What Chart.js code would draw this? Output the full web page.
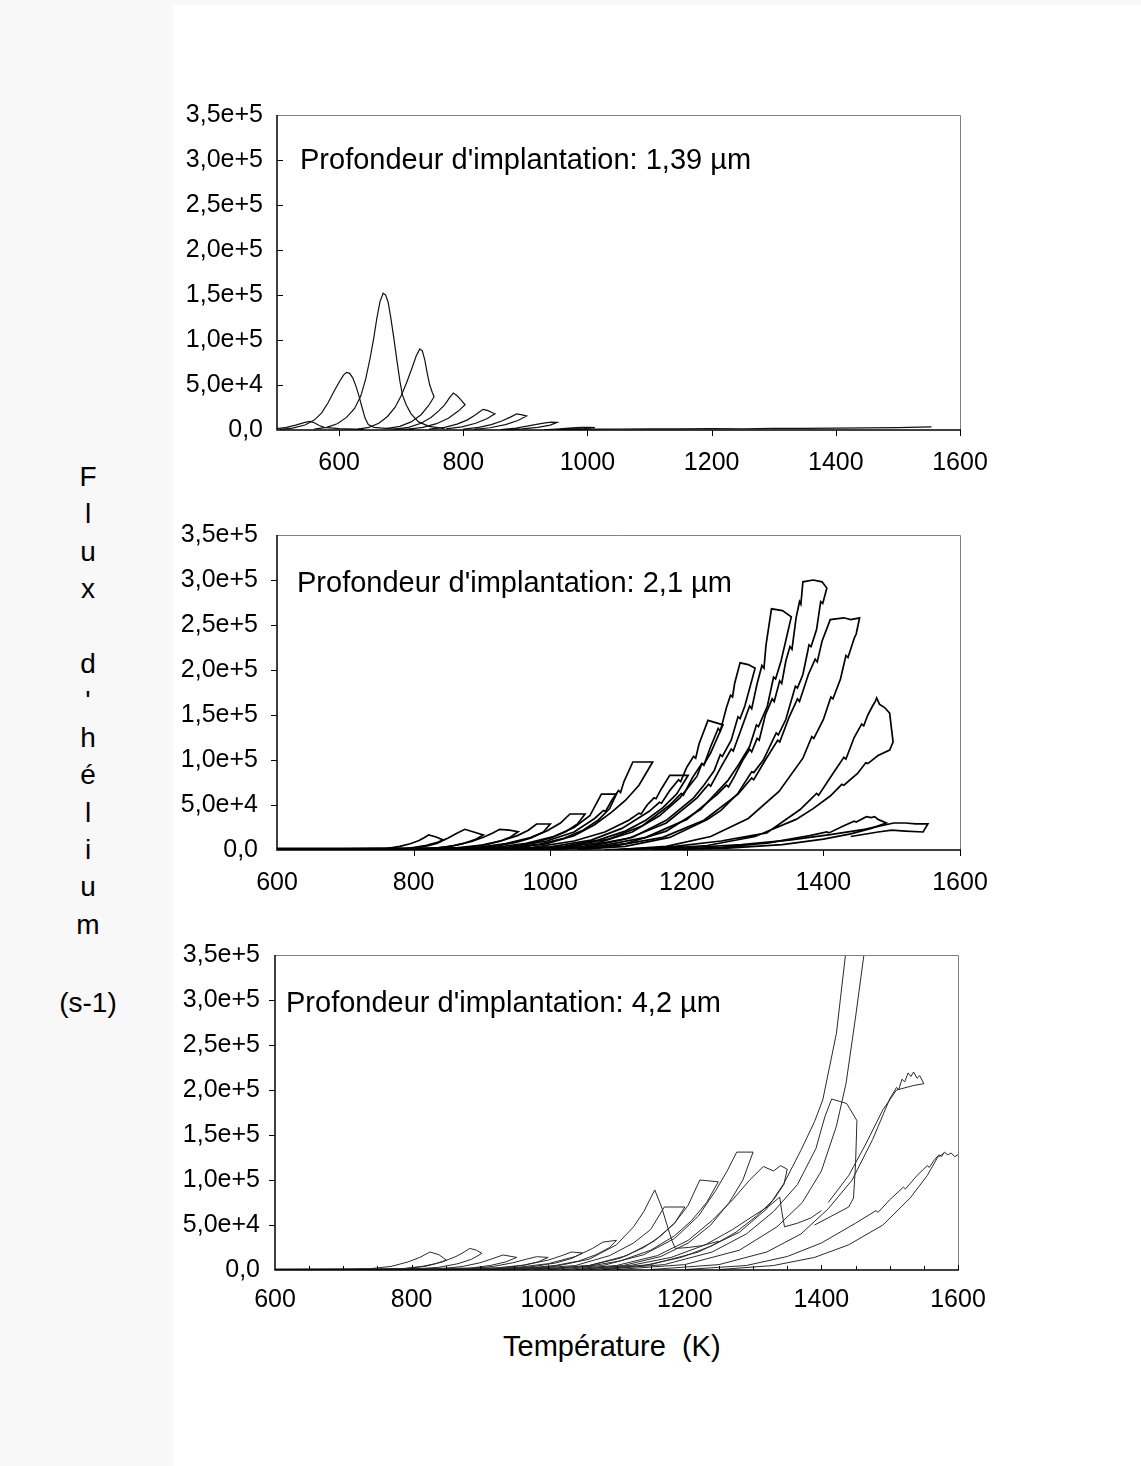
<!DOCTYPE html>
<html><head><meta charset="utf-8">
<script src="https://cdn.jsdelivr.net/npm/chart.js@4.4.0/dist/chart.umd.min.js"></script>
<style>
body{margin:0;background:#fff;}
#page{position:relative;width:1141px;height:1466px;background:#fff;overflow:hidden;font-family:"Liberation Sans",Arial,sans-serif;color:#000;}
#strip{position:absolute;left:0;top:0;width:173px;height:1466px;background:#f8f8f8;}
#topstrip{position:absolute;left:0;top:0;width:1141px;height:5px;background:#f8f8f8;}
canvas{position:absolute;}
.ann{position:absolute;font-size:29px;white-space:nowrap;line-height:29px;}
.yl{position:absolute;width:120px;left:28px;text-align:center;font-size:28px;line-height:28px;}
</style></head>
<body><div id="page">
<div id="strip"></div><div id="topstrip"></div>
<canvas id="c1" width="870" height="410" style="left:150px;top:75px"></canvas>
<canvas id="c2" width="870" height="410" style="left:150px;top:495px"></canvas>
<canvas id="c3" width="870" height="410" style="left:150px;top:915px"></canvas>
<div class="ann" style="left:300px;top:145px">Profondeur d'implantation: 1,39 µm</div>
<div class="ann" style="left:297px;top:568px">Profondeur d'implantation: 2,1 µm</div>
<div class="ann" style="left:286px;top:988px">Profondeur d'implantation: 4,2 µm</div>
<div class="ann" style="left:503px;top:1332px">Température&nbsp;&nbsp;(K)</div>
<div id="ytitle"></div>
</div>
<script>
// ---------- axis ticks ----------
const yTickValues = [0, 50, 100, 150, 200, 250, 300, 350]; // in units of 1e3 s-1
const yTickLabels = ['0,0', '5,0e+4', '1,0e+5', '1,5e+5', '2,0e+5', '2,5e+5', '3,0e+5', '3,5e+5'];
const xTickValues = [600, 800, 1000, 1200, 1400, 1600];
const yTitleLines = ['F', 'l', 'u', 'x', '', 'd', "'", 'h', 'é', 'l', 'i', 'u', 'm', '', '(s-1)'];

// ---------- panel 1 : 1,39 µm  ([T (K), flux (1e3 s-1)]) ----------
const p1a = [[500,1.5],[515,3],[530,5.5],[545,8.5],[553,9.5],[560,8],[568,5],[576,3],[600,1.5],[640,0.8]];
const p1b = [[505,0.8],[525,2],[545,5.5],[560,11],[572,19],[582,30],[591,42],[600,53],[607,61],[612,64],[617,63],[622,58],[627,49],[632,38],[637,25],[642,13],[647,6],[656,3],[680,1.5],[720,0.8]];
const p1c = [[560,1],[580,3],[597,7],[612,14],[625,24],[635,38],[643,57],[650,80],[656,103],[661,125],[666,143],[671,152],[675,150],[679,142],[683,126],[688,103],[693,78],[698,54],[702,39],[708,28],[716,18],[728,9],[745,4],[770,1.5]];
const p1d = [[630,1],[648,3],[664,7.5],[678,15],[690,25],[700,38],[709,53],[717,68],[724,82],[730,90],[734,88],[738,78],[742,63],[746,50],[750,42],[753,37],[744,27],[732,17],[716,9],[698,4],[675,1.5]];
const p1e = [[690,1],[712,3],[732,7.5],[748,14],[760,21],[770,28],[778,36],[784,41],[790,38],[797,33],[803,28],[792,21],[776,13],[757,7],[735,3],[712,1]];
const p1f = [[745,1],[770,3],[790,6.5],[806,11],[818,16],[827,20.5],[832,23],[840,21.5],[846,19.5],[851,18],[838,12.5],[820,7.5],[798,3.5],[772,1.2]];
const p1g = [[800,1],[825,3],[845,6],[862,10],[875,14],[886,17.8],[895,16.8],[902,15.5],[888,10.5],[868,6],[843,2.5],[818,0.8]];
const p1h = [[860,0.5],[885,2],[905,4.5],[920,6.5],[932,8],[942,8.8],[951,8.5],[940,5.5],[920,3],[895,1.2],[870,0.4]];
const p1i = [[930,0.3],[955,1.2],[975,2.3],[990,3],[1005,3],[1012,2.6],[995,1.5],[970,0.6]];
const p1base = [[950,0.6],[1000,0.9],[1050,1.1],[1100,1.3],[1150,1.2],[1200,1.6],[1250,1.4],[1300,1.9],[1350,1.7],[1400,2.1],[1450,2.4],[1500,2.7],[1554,3.4]];

// ---------- panel 2 : 2,1 µm ----------
const p2base = [[600,1],[650,1],[700,1.1],[750,1.3],[800,1.5],[850,1.8],[900,2]];
const p2f1 = [[740,0.3],[760,1.5],[780,4],[795,7],[808,10.5],[816,14],[822,16.7],[833,14.5],[844,11],[835,7.5],[820,4.5],[800,2],[775,0.7]];
const p2f2 = [[760,0.3],[790,1.5],[815,4.5],[835,8.5],[850,13],[862,18],[875,23],[888,20],[902,16.7],[890,11.5],[872,7],[850,3.5],[825,1.5],[795,0.4]];
const p2f3 = [[790,0.3],[830,1.8],[860,5],[885,9.5],[903,14.5],[916,19],[926,23],[940,22],[953,20.3],[942,14.5],[925,9.5],[903,5.5],[875,2.5],[840,0.8]];
const p2f4 = [[810,0.3],[860,2],[900,5.5],[930,10.5],[952,16],[968,22],[980,28.9],[1000,28.9],[990,20],[972,13.5],[950,8.5],[922,4.5],[890,2],[850,0.5]];
const p2f5 = [[830,0.3],[890,2.5],[935,7],[970,13.5],[995,21],[1015,30],[1029,40],[1051,40],[1040,29],[1022,20],[1000,13],[972,7.5],[940,3.5],[895,1]];
const p2f6 = [[850,0.3],[915,2.5],[965,7.5],[1005,15],[1035,25],[1058,38],[1075,62],[1097,62],[1087,46],[1070,33],[1048,22],[1020,13],[985,6.5],[940,2.5],[890,0.5]];
const p2f7 = [[870,0.3],[940,3],[995,10],[1035,20],[1065,35],[1078,44],[1081,43],[1090,55],[1100,66],[1103,64],[1108,76],[1121,97.8],[1150,97.8],[1130,72],[1110,55],[1090,42],[1065,28],[1035,16],[995,7],[950,2.5],[900,0.5]];
const p2f8 = [[900,0.3],[975,3],[1035,10],[1080,20],[1115,33],[1130,41],[1133,40],[1142,50],[1152,58],[1155,57],[1162,67],[1175,83],[1202,83],[1185,62],[1165,47],[1140,33],[1110,21],[1070,11],[1020,4],[960,1]];
const p2f9 = [[920,0.3],[1000,3.5],[1060,11],[1105,24],[1145,43],[1160,53],[1163,52],[1175,66],[1188,78],[1191,76],[1200,92],[1210,104],[1213,102],[1218,118],[1231,144],[1253,139],[1235,108],[1225,95],[1222,96],[1215,82],[1190,58],[1160,38],[1120,20],[1070,8],[1010,2],[950,0.3]];
const p2f10 = [[940,0.3],[1020,3.5],[1085,12],[1135,27],[1175,50],[1192,63],[1195,61],[1208,80],[1222,96],[1225,94],[1235,115],[1246,135],[1249,132],[1258,158],[1264,172],[1267,170],[1270,185],[1278,208],[1290,206],[1300,202],[1285,160],[1278,146],[1275,148],[1265,122],[1252,104],[1249,106],[1240,88],[1225,72],[1210,58],[1170,33],[1120,14],[1060,4],[990,0.5]];
const p2f11 = [[960,0.3],[1045,3.5],[1115,13],[1170,30],[1215,58],[1232,73],[1235,71],[1250,92],[1265,112],[1268,110],[1280,135],[1292,160],[1295,157],[1303,185],[1310,205],[1313,202],[1316,228],[1324,268],[1340,266],[1353,259],[1338,210],[1330,190],[1327,192],[1318,160],[1305,137],[1302,139],[1292,115],[1276,95],[1260,77],[1220,45],[1170,21],[1110,7],[1040,1]];
const p2f12 = [[980,0.3],[1070,4],[1140,14],[1200,34],[1245,62],[1258,72],[1261,70],[1270,82],[1282,100],[1292,112],[1295,109],[1303,124],[1306,122],[1315,150],[1325,168],[1328,165],[1336,188],[1339,185],[1345,210],[1351,226],[1354,223],[1360,258],[1365,276],[1367,273],[1370,298],[1385,300],[1398,298],[1405,291],[1399,274],[1396,276],[1390,245],[1382,226],[1379,228],[1370,195],[1362,180],[1359,182],[1345,145],[1334,128],[1331,130],[1312,100],[1298,86],[1295,87],[1275,63],[1250,44],[1230,34],[1175,14],[1110,4],[1040,0.5]];
const p2f13 = [[1000,0.3],[1090,4],[1165,14],[1225,33],[1275,62],[1295,80],[1298,78],[1315,100],[1333,122],[1336,120],[1350,148],[1362,168],[1365,165],[1378,195],[1388,212],[1391,209],[1398,232],[1410,256],[1430,258],[1440,256],[1453,258],[1448,240],[1445,235],[1436,214],[1433,216],[1425,190],[1414,168],[1411,170],[1400,145],[1386,124],[1383,126],[1370,102],[1335,65],[1290,35],[1235,15],[1170,4],[1100,0.5]];
const p2f14 = [[1080,0.3],[1170,3],[1250,10],[1317,19],[1366,45],[1390,63],[1393,61],[1414,85],[1430,103],[1433,101],[1445,125],[1456,140],[1459,138],[1465,150],[1472,160],[1476,165],[1478,169],[1482,162],[1490,158],[1497,152],[1502,120],[1497,111],[1480,105],[1465,96],[1462,97],[1450,85],[1430,72],[1427,73],[1410,60],[1385,46],[1360,34],[1300,15],[1230,5],[1150,1]];
const p2f15 = [[1150,0.3],[1250,3],[1320,8],[1380,16],[1405,20],[1408,19],[1430,27],[1445,32],[1448,31],[1463,37],[1470,36],[1475,37],[1480,34],[1492,30],[1470,24],[1440,18],[1400,12],[1340,6],[1260,2],[1180,0.5]];
const p2f16 = [[1100,0.3],[1200,2.5],[1280,6],[1350,11],[1410,17],[1460,23],[1503,30],[1520,30],[1535,29],[1553,29],[1546,20],[1520,21],[1500,22],[1480,20],[1440,15]];

// ---------- panel 3 : 4,2 µm ----------
const p3base = [[600,0.5],[700,0.8],[800,1.2],[900,1.6],[1000,2]];
const p3g1 = [[700,0.3],[740,1.5],[770,4],[795,9],[812,14],[827,20],[840,17],[851,11],[835,7],[815,4],[790,1.8],[760,0.5]];
const p3g2 = [[750,0.3],[790,1.5],[820,4],[845,9],[865,15],[877,20],[885,24],[895,22],[903,18.5],[888,12],[868,7],[840,3],[805,1]];
const p3g3 = [[800,0.3],[845,1.5],[875,4],[900,8],[918,12.5],[934,16.7],[954,14],[938,9],[915,5],[885,2],[850,0.5]];
const p3g4 = [[840,0.3],[885,1.5],[920,4],[948,8],[968,12],[983,14.8],[1000,14],[985,9],[962,5],[930,2],[890,0.5]];
const p3g5 = [[860,0.3],[920,2],[965,5.5],[1000,11],[1020,16],[1034,20],[1050,19],[1035,13],[1012,8],[980,4],[940,1.5],[890,0.3]];
const p3g6 = [[880,0.3],[950,2.5],[1000,7],[1040,15],[1065,24],[1080,31],[1100,33],[1090,25],[1070,17],[1045,10],[1010,5],[960,1.5],[910,0.3]];
const p3g7 = [[940,0.5],[1010,4],[1060,12],[1100,28],[1125,48],[1140,65],[1156,89],[1166,70],[1174,50],[1181,33],[1186,24],[1205,25],[1225,27],[1250,32]];
const p3g8 = [[960,0.5],[1040,5],[1090,16],[1125,30],[1150,45],[1170,70],[1200,70],[1185,52],[1165,38],[1140,25],[1105,13],[1060,5],[1000,1]];
const p3g9 = [[980,0.5],[1060,5],[1115,16],[1155,32],[1185,52],[1205,72],[1222,100],[1249,98],[1232,75],[1210,55],[1185,38],[1150,22],[1105,10],[1050,3]];
const p3g10 = [[1000,0.5],[1080,5],[1140,17],[1185,35],[1220,60],[1245,88],[1262,110],[1276,131],[1300,131],[1285,100],[1265,75],[1238,50],[1205,30],[1165,15],[1110,5],[1050,1]];
const p3g11 = [[1020,0.5],[1100,5],[1160,16],[1205,33],[1240,55],[1270,78],[1295,100],[1315,115],[1330,110],[1340,116],[1350,112],[1345,95],[1330,78],[1305,60],[1275,42],[1240,27],[1195,14],[1140,5],[1080,1]];
const p3g12 = [[1040,0.5],[1120,5],[1180,14],[1230,28],[1270,45],[1300,60],[1325,72],[1339,81],[1342,65],[1346,48],[1365,52],[1385,58],[1400,66]];
const p3g13 = [[1060,0.5],[1150,6],[1220,20],[1280,42],[1320,68],[1345,96],[1370,133],[1390,165],[1402,189],[1422,263],[1436,355],[1440,380]];
const p3g14 = [[1100,0.5],[1200,6],[1280,22],[1335,48],[1372,75],[1400,110],[1422,160],[1436,207],[1450,281],[1464,360],[1468,380]];
const p3g15 = [[1080,0.5],[1170,6],[1240,20],[1290,40],[1330,65],[1365,95],[1392,135],[1405,170],[1415,190],[1437,185],[1452,166],[1450,118],[1447,80],[1440,70],[1420,62],[1390,50]];
const p3g16 = [[1150,0.5],[1250,6],[1320,20],[1370,40],[1410,68],[1445,100],[1475,145],[1500,190],[1510,203],[1513,200],[1518,212],[1522,209],[1527,219],[1531,215],[1535,220],[1540,213],[1544,216],[1550,207],[1535,205],[1510,200],[1490,178],[1465,140],[1440,105],[1410,75]];
const p3g17 = [[1200,0.5],[1290,5],[1350,15],[1400,30],[1450,52],[1480,66],[1483,64],[1500,78],[1520,92],[1523,90],[1540,105],[1555,116],[1558,114],[1565,122],[1572,128],[1576,126],[1580,131],[1585,128],[1590,130],[1595,126],[1600,128]];
const p3g18 = [[1250,0.5],[1330,5],[1390,14],[1440,28],[1490,50],[1530,80],[1555,105],[1570,125],[1580,130]];

const panel1Curves = [p1a, p1b, p1c, p1d, p1e, p1f, p1g, p1h, p1i, p1base];
const panel2Curves = [p2base, p2f1, p2f2, p2f3, p2f4, p2f5, p2f6, p2f7, p2f8, p2f9, p2f10, p2f11, p2f12, p2f13, p2f14, p2f15, p2f16];
const panel3Curves = [p3base, p3g1, p3g2, p3g3, p3g4, p3g5, p3g6, p3g7, p3g8, p3g9, p3g10, p3g11, p3g12, p3g13, p3g14, p3g15, p3g16, p3g17, p3g18];

// ---------- y title ----------
(function(){
  const host = document.getElementById('ytitle');
  let y = 463;
  yTitleLines.forEach(t => {
    if (t) {
      const d = document.createElement('div');
      d.className = 'yl'; d.style.top = (t === '(s-1)' ? y + 4 : y) + 'px'; d.textContent = t;
      host.appendChild(d);
    }
    y += 37.3;
  });
})();

// ---------- charts ----------
const FONT = '"Liberation Sans", Arial, sans-serif';
const CANVAS_LEFT = 150, CANVAS_RIGHT = 1020, PAD_TOP = 40, XAXIS_H = 55;
function framePlugin(o) {
  return {
    id: 'frame',
    afterDraw(chart) {
      const ctx = chart.ctx, a = chart.chartArea, xs = chart.scales.x, ys = chart.scales.y;
      ctx.save();
      ctx.strokeStyle = '#808080'; ctx.lineWidth = 1;
      ctx.beginPath();
      ctx.moveTo(a.left, a.top + 0.5); ctx.lineTo(a.right + 0.5, a.top + 0.5); ctx.lineTo(a.right + 0.5, a.bottom);
      ctx.stroke();
      ctx.strokeStyle = '#000'; ctx.lineWidth = 1.5;
      ctx.beginPath();
      ctx.moveTo(a.left, a.top); ctx.lineTo(a.left, a.bottom); ctx.lineTo(a.right + 1, a.bottom);
      ctx.stroke();
      ctx.lineWidth = 1;
      ctx.beginPath();
      yTickValues.forEach(v => {
        if (v === 0 || v === 350) return;
        const p = Math.round(ys.getPixelForValue(v)) + 0.5;
        if (o.yIn) { ctx.moveTo(a.left, p); ctx.lineTo(a.left + 6, p); }
        else { ctx.moveTo(a.left - 6, p); ctx.lineTo(a.left, p); }
      });
      xTickValues.forEach(v => {
        if (v === xs.min) return;
        const p = Math.round(xs.getPixelForValue(v)) + 0.5;
        if (o.xIn) { ctx.moveTo(p, a.bottom); ctx.lineTo(p, a.bottom - 5); }
        else { ctx.moveTo(p, a.bottom); ctx.lineTo(p, a.bottom + 6); }
      });
      if (o.minor) {
        for (let i = 0; i < o.minor.length; i++) {
          const p = Math.round(xs.getPixelForValue(o.minor[i])) + 0.5;
          ctx.moveTo(p, a.bottom); ctx.lineTo(p, a.bottom - 4);
        }
      }
      ctx.stroke();
      ctx.restore();
    }
  };
}
function makePanel(id, curves, o) {
  const datasets = curves.map((c, i) => ({
    data: c.map(p => ({ x: p[0], y: p[1] })),
    showLine: true, pointRadius: 0, borderColor: o.color,
    borderWidth: i === 0 ? o.baseLw : o.lw, tension: 0, fill: false
  }));
  new Chart(document.getElementById(id), {
    type: 'scatter',
    data: { datasets },
    options: {
      responsive: false, animation: false, devicePixelRatio: 1,
      layout: { padding: { top: PAD_TOP, right: CANVAS_RIGHT - o.right, bottom: 0, left: 0 } },
      plugins: { legend: { display: false }, tooltip: { enabled: false } },
      scales: {
        x: {
          type: 'linear', min: o.xmin, max: 1600,
          grid: { display: false, drawTicks: false }, border: { display: false },
          afterBuildTicks: s => { s.ticks = xTickValues.map(v => ({ value: v })); },
          afterFit: s => { s.height = XAXIS_H; },
          ticks: { color: '#000', font: { family: FONT, size: 25 }, padding: o.xpad, maxRotation: 0, autoSkip: false,
                   callback: v => String(v) }
        },
        y: {
          type: 'linear', min: 0, max: 350,
          grid: { display: false, drawTicks: false }, border: { display: false },
          afterBuildTicks: s => { s.ticks = yTickValues.map(v => ({ value: v })); },
          afterFit: s => { s.width = o.left - CANVAS_LEFT; },
          ticks: { color: '#000', font: { family: FONT, size: 25 }, padding: o.ypad,
                   callback: v => yTickLabels[yTickValues.indexOf(v)] }
        }
      }
    },
    plugins: [framePlugin(o)]
  });
}
const minor3 = [650,700,750,850,900,950,1050,1100,1150,1250,1300,1350,1450,1500,1550];
makePanel('c1', panel1Curves, { xmin: 500, left: 277, right: 960, xpad: 18, ypad: 14, yIn: true, xIn: false, color: '#111', lw: 1.2, baseLw: 1.2 });
makePanel('c2', panel2Curves, { xmin: 600, left: 277, right: 960, xpad: 18, ypad: 19, yIn: false, xIn: false, color: '#000', lw: 1.7, baseLw: 3 });
makePanel('c3', panel3Curves, { xmin: 600, left: 275, right: 958, xpad: 15, ypad: 15, yIn: false, xIn: true, minor: minor3, color: '#2a2a2a', lw: 1, baseLw: 2 });
</script>
</body></html>
